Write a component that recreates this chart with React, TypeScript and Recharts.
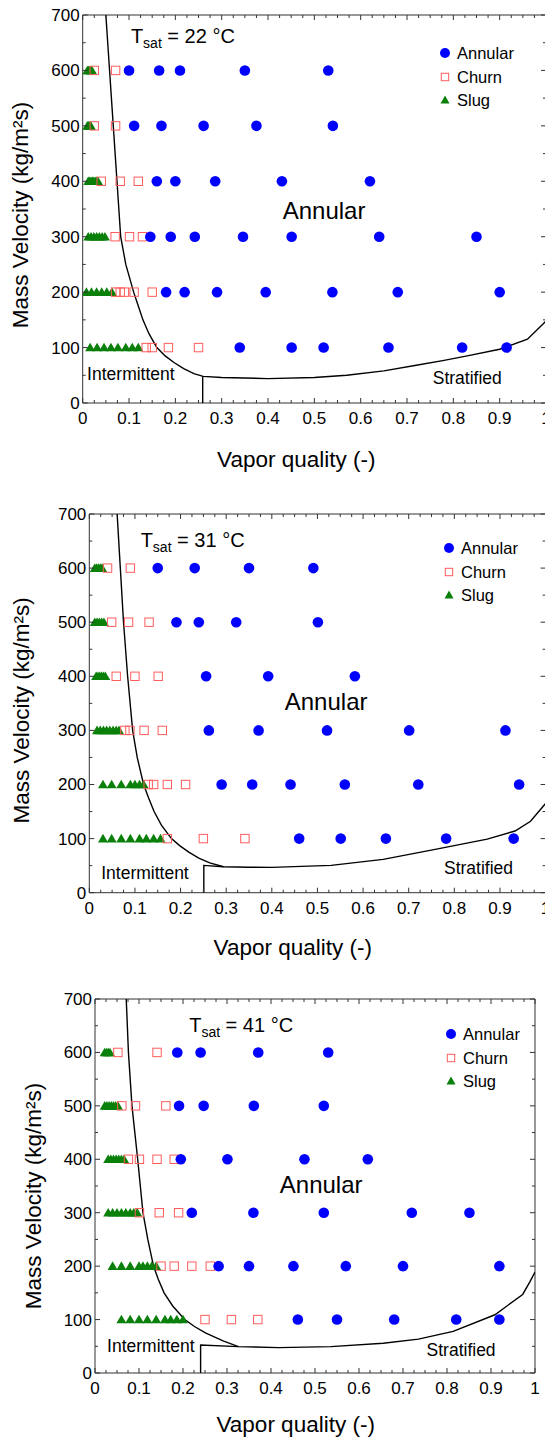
import React from 'react';
import { ScatterChart, Scatter, XAxis, YAxis, ReferenceDot, Legend } from 'recharts';

// ---------- data ----------
const gLevels = [600, 500, 400, 300, 200, 100];

// Panel 1 : Tsat = 22 °C  (x values per G row, order of gLevels)
const annular22 = [
  [0.10, 0.165, 0.21, 0.35, 0.53],
  [0.111, 0.17, 0.261, 0.375, 0.54],
  [0.16, 0.2, 0.286, 0.43, 0.62],
  [0.146, 0.19, 0.242, 0.346, 0.451, 0.64, 0.85],
  [0.18, 0.22, 0.29, 0.395, 0.539, 0.68, 0.9],
  [0.339, 0.451, 0.52, 0.66, 0.819, 0.915],
];
const churn22 = [
  [0.025, 0.071],
  [0.025, 0.071],
  [0.04, 0.081, 0.12],
  [0.07, 0.101, 0.129],
  [0.071, 0.081, 0.09, 0.111, 0.15],
  [0.137, 0.15, 0.185, 0.25],
];
const slug22 = [
  [0.01, 0.0125, 0.015, 0.0175, 0.02],
  [0.01, 0.0125, 0.015, 0.0175],
  [0.012, 0.015, 0.018, 0.021, 0.024, 0.027, 0.03, 0.033],
  [0.012, 0.018, 0.024, 0.03, 0.036, 0.042, 0.048],
  [0.008, 0.019, 0.03, 0.041, 0.052, 0.063],
  [0.016, 0.031, 0.046, 0.061, 0.076, 0.093, 0.107, 0.12],
];
const boundary22 = [
  [0.05, 700], [0.058, 600], [0.066, 500], [0.074, 400], [0.082, 300], [0.093, 250],
  [0.11, 200], [0.12, 175], [0.13, 150], [0.143, 125], [0.16, 100], [0.178, 85],
  [0.197, 73], [0.218, 62], [0.24, 53], [0.26, 48], [0.3, 46], [0.4, 44], [0.5, 46],
  [0.57, 50], [0.65, 58], [0.72, 68], [0.78, 77], [0.83, 85], [0.9, 97], [0.96, 115],
  [0.993, 142], [1.0, 148],
];
const divider22 = [[0.259, 0], [0.259, 48]];

// Panel 2 : Tsat = 31 °C
const annular31 = [
  [0.15, 0.231, 0.35, 0.491],
  [0.191, 0.24, 0.322, 0.501],
  [0.256, 0.392, 0.582],
  [0.262, 0.371, 0.521, 0.701, 0.912],
  [0.29, 0.357, 0.441, 0.56, 0.721, 0.942],
  [0.46, 0.551, 0.65, 0.782, 0.93],
];
const churn31 = [
  [0.04, 0.09],
  [0.049, 0.086, 0.131],
  [0.059, 0.1, 0.151],
  [0.078, 0.089, 0.12, 0.16],
  [0.129, 0.141, 0.171, 0.211],
  [0.171, 0.25, 0.341],
];
const slug31 = [
  [0.012, 0.016, 0.02, 0.024, 0.028],
  [0.012, 0.017, 0.022, 0.027, 0.032],
  [0.015, 0.019, 0.023, 0.027, 0.031, 0.035],
  [0.017, 0.024, 0.031, 0.038, 0.045, 0.052, 0.059, 0.065],
  [0.03, 0.049, 0.07, 0.09, 0.1, 0.11, 0.119],
  [0.03, 0.049, 0.07, 0.09, 0.11, 0.125, 0.141, 0.156],
];
const boundary31 = [
  [0.061, 700], [0.068, 600], [0.075, 500], [0.084, 400], [0.095, 300], [0.105, 250],
  [0.119, 200], [0.13, 175], [0.142, 150], [0.158, 125], [0.18, 100], [0.198, 87],
  [0.218, 75], [0.24, 64], [0.264, 55], [0.294, 48], [0.35, 47], [0.4, 46.8],
  [0.53, 50.5], [0.644, 61.5], [0.758, 80], [0.872, 99], [0.933, 114], [0.967, 132],
  [1.0, 165],
];
const divider31 = [[0.251, 0], [0.251, 50.5], [0.294, 48]];

// Panel 3 : Tsat = 41 °C
const annular41 = [
  [0.187, 0.24, 0.371, 0.53],
  [0.191, 0.247, 0.361, 0.52],
  [0.195, 0.301, 0.476, 0.62],
  [0.22, 0.36, 0.52, 0.72, 0.851],
  [0.281, 0.35, 0.451, 0.57, 0.7, 0.919],
  [0.461, 0.55, 0.68, 0.821, 0.919],
];
const churn41 = [
  [0.052, 0.141],
  [0.061, 0.092, 0.161],
  [0.076, 0.101, 0.141, 0.18],
  [0.101, 0.146, 0.19],
  [0.15, 0.18, 0.22, 0.262],
  [0.25, 0.31, 0.37],
];
const slug41 = [
  [0.022, 0.026, 0.03, 0.034],
  [0.022, 0.027, 0.032, 0.037, 0.042, 0.047, 0.052],
  [0.03, 0.036, 0.042, 0.048, 0.054, 0.06, 0.066],
  [0.03, 0.04, 0.05, 0.06, 0.07, 0.08, 0.088, 0.096],
  [0.04, 0.06, 0.08, 0.1, 0.109, 0.119, 0.129, 0.139],
  [0.06, 0.08, 0.1, 0.119, 0.139, 0.159, 0.172, 0.186, 0.2],
];
const boundary41 = [
  [0.071, 700], [0.076, 600], [0.084, 500], [0.097, 400], [0.109, 300], [0.12, 250],
  [0.133, 200], [0.144, 175], [0.157, 150], [0.177, 125], [0.204, 100], [0.226, 87],
  [0.251, 75], [0.291, 60], [0.326, 49.4], [0.417, 47.5], [0.536, 49.4], [0.655, 55.7],
  [0.735, 63.3], [0.814, 77.8], [0.909, 109], [0.972, 147], [0.988, 170], [1.0, 189],
];
const divider41 = [[0.24, 0], [0.24, 52.5], [0.326, 49.4]];

const xMajorTicks = [0, 0.1, 0.2, 0.3, 0.4, 0.5, 0.6, 0.7, 0.8, 0.9, 1];
const yMajorTicks = [0, 100, 200, 300, 400, 500, 600, 700];
const seriesNames = ['Annular', 'Churn', 'Slug'];

// ---------- helpers ----------
const toPoints = (rows: number[][]) =>
  gLevels.flatMap((g, i) => rows[i].map((x) => ({ x, y: g })));
const toCurve = (pairs: number[][]) => pairs.map(([x, y]) => ({ x, y }));

const xAllTicks = xMajorTicks.flatMap((t, i) =>
  i === xMajorTicks.length - 1 ? [t] : [t, t + 0.025, t + 0.05, t + 0.075]
).map((v) => Math.round(v * 1000) / 1000);
const yAllTicks = yMajorTicks.flatMap((t, i) =>
  i === yMajorTicks.length - 1 ? [t] : [t, t + 50]
);
const frameAnchor = [{ x: 0, y: 0 }, { x: 1, y: 700 }];

const AX = '#333';
const BLUE = '#0000ff';
const RED = '#ff5c5c';
const GREEN = '#0a800a';
const FONT = '"Liberation Sans", Arial, Helvetica, sans-serif';

const isMajX = (v: number) => Math.abs(v * 10 - Math.round(v * 10)) < 1e-6;
const isMajY = (v: number) => v % 100 === 0;
const fmtX = (v: number) => (v === 0 ? '0' : v === 1 ? '1' : v.toFixed(1));

const BottomTick = (p: any) => {
  const v = p.payload.value;
  const m = isMajX(v);
  return (
    <g>
      <line x1={p.x} x2={p.x} y1={p.y} y2={p.y - (m ? 5 : 3)} stroke={AX} />
      {m && (
        <text x={p.x} y={p.y + 21} textAnchor="middle" fontSize={17} fill="#000">
          {fmtX(v)}
        </text>
      )}
    </g>
  );
};
const TopTick = (p: any) => {
  const m = isMajX(p.payload.value);
  return <line x1={p.x} x2={p.x} y1={p.y} y2={p.y + (m ? 5 : 3)} stroke={AX} />;
};
const LeftTick = (p: any) => {
  const v = p.payload.value;
  const m = isMajY(v);
  return (
    <g>
      <line x1={p.x} x2={p.x + (m ? 5 : 3)} y1={p.y} y2={p.y} stroke={AX} />
      {m && (
        <text x={p.x - 3} y={p.y} dy="0.35em" textAnchor="end" fontSize={17} fill="#000">
          {v}
        </text>
      )}
    </g>
  );
};
const RightTick = (p: any) => {
  const m = isMajY(p.payload.value);
  return <line x1={p.x} x2={p.x - (m ? 5 : 3)} y1={p.y} y2={p.y} stroke={AX} />;
};

const CircleShape = (p: any) => <circle cx={p.cx} cy={p.cy} r={5.3} fill={BLUE} />;
const SquareShape = (p: any) => (
  <rect x={p.cx - 4.2} y={p.cy - 4.2} width={8.4} height={8.4} fill="none" stroke={RED} strokeWidth={1} />
);
const TriShape = (p: any) => (
  <polygon
    points={`${p.cx},${p.cy - 4.8} ${p.cx + 5},${p.cy + 3.8} ${p.cx - 5},${p.cy + 3.8}`}
    fill={GREEN}
  />
);
const NoShape = () => <g />;

const LegendBox = () => (
  <div style={{ fontFamily: FONT, fontSize: 16.5, color: '#000' }}>
    {seriesNames.map((n, i) => (
      <div key={n} style={{ display: 'flex', alignItems: 'center', height: 23.5 }}>
        <svg width={14} height={14} style={{ display: 'block' }}>
          {i === 0 && <circle cx={7} cy={7} r={5} fill={BLUE} />}
          {i === 1 && <rect x={3.3} y={3.3} width={7.4} height={7.4} fill="none" stroke={RED} />}
          {i === 2 && <polygon points="7,2.6 11.5,10.4 2.5,10.4" fill={GREEN} />}
        </svg>
        <span style={{ marginLeft: 5, lineHeight: '20px' }}>{n}</span>
      </div>
    ))}
  </div>
);

type PanelProps = {
  plotLeft: number; plotRight: number; plotTop: number; plotBottom: number;
  annular: number[][]; churn: number[][]; slug: number[][];
  boundary: number[][]; divider: number[][];
  temp: string;
  tsatAt: number[]; annularAt: number[]; interAt: number[]; stratAt: number[];
  legendX: number; legendY: number;
  xTitleDx: number; xTitleDy: number; yTitleX: number; yTitleDy: number;
};

const W = 560;
const H = 480;
const YW = 60;
const XH = 70;
const MT = 15;

const Panel = (pp: PanelProps) => {
  const plotH = pp.plotBottom - pp.plotTop;
  const margin = {
    top: MT - 1,
    left: pp.plotLeft - YW,
    right: W - pp.plotRight - 1,
    bottom: H - MT - plotH - XH,
  };
  const top = pp.plotTop - MT;
  return (
    <div style={{ position: 'absolute', left: 0, top, width: W, height: H }}>
      <ScatterChart width={W} height={H} margin={margin}>
        <XAxis
          xAxisId="b" type="number" dataKey="x" domain={[0, 1]} ticks={xAllTicks} interval={0}
          allowDataOverflow tickSize={0} tickMargin={0} tickLine={false} height={XH}
          axisLine={{ stroke: AX }} tick={<BottomTick />}
          label={(lp: any) => {
            const vb = lp.viewBox || {};
            return (
              <text x={vb.x + pp.xTitleDx} y={vb.y + pp.xTitleDy} textAnchor="middle" fontSize={22.5} fill="#000">
                Vapor quality (-)
              </text>
            );
          }}
        />
        <XAxis
          xAxisId="t" orientation="top" type="number" dataKey="x" domain={[0, 1]} ticks={xAllTicks}
          interval={0} allowDataOverflow tickSize={0} tickMargin={0} tickLine={false} height={1}
          axisLine={{ stroke: AX }} tick={<TopTick />}
        />
        <YAxis
          yAxisId="l" type="number" dataKey="y" domain={[0, 700]} ticks={yAllTicks} interval={0}
          allowDataOverflow tickSize={0} tickMargin={0} tickLine={false} width={YW}
          axisLine={{ stroke: AX }} tick={<LeftTick />}
          label={(lp: any) => {
            const vb = lp.viewBox || {};
            const cx = pp.yTitleX;
            const cy = vb.y + vb.height / 2 + pp.yTitleDy;
            return (
              <text x={cx} y={cy} transform={`rotate(-90 ${cx} ${cy})`} textAnchor="middle" fontSize={22.5} fill="#000">
                Mass Velocity (kg/m²s)
              </text>
            );
          }}
        />
        <YAxis
          yAxisId="r" orientation="right" type="number" dataKey="y" domain={[0, 700]} ticks={yAllTicks}
          interval={0} allowDataOverflow tickSize={0} tickMargin={0} tickLine={false} width={1}
          axisLine={{ stroke: AX }} tick={<RightTick />}
        />
        <Scatter xAxisId="t" yAxisId="r" data={frameAnchor} shape={NoShape} isAnimationActive={false} legendType="none" />
        <Scatter xAxisId="b" yAxisId="l" data={toCurve(pp.boundary)} line={{ stroke: '#000', strokeWidth: 1.4 }}
          shape={NoShape} isAnimationActive={false} legendType="none" />
        <Scatter xAxisId="b" yAxisId="l" data={toCurve(pp.divider)} line={{ stroke: '#000', strokeWidth: 1.4 }}
          shape={NoShape} isAnimationActive={false} legendType="none" />
        <Scatter xAxisId="b" yAxisId="l" name="Slug" data={toPoints(pp.slug)} shape={TriShape} isAnimationActive={false} />
        <Scatter xAxisId="b" yAxisId="l" name="Churn" data={toPoints(pp.churn)} shape={SquareShape} isAnimationActive={false} />
        <Scatter xAxisId="b" yAxisId="l" name="Annular" data={toPoints(pp.annular)} shape={CircleShape} isAnimationActive={false} />
        <ReferenceDot xAxisId="b" yAxisId="l" x={pp.tsatAt[0]} y={pp.tsatAt[1]} r={0}
          shape={(s: any) => (
            <text x={s.cx} y={s.cy} fontSize={20} fill="#000">
              T<tspan fontSize={14} dy={5}>sat</tspan><tspan dy={-5}>{` = ${pp.temp} °C`}</tspan>
            </text>
          )} />
        <ReferenceDot xAxisId="b" yAxisId="l" x={pp.annularAt[0]} y={pp.annularAt[1]} r={0}
          shape={(s: any) => (
            <text x={s.cx} y={s.cy} dy="0.35em" textAnchor="middle" fontSize={24} fill="#000">Annular</text>
          )} />
        <ReferenceDot xAxisId="b" yAxisId="l" x={pp.interAt[0]} y={pp.interAt[1]} r={0}
          shape={(s: any) => (
            <text x={s.cx} y={s.cy} dy="0.35em" textAnchor="middle" fontSize={17.5} fill="#000">Intermittent</text>
          )} />
        <ReferenceDot xAxisId="b" yAxisId="l" x={pp.stratAt[0]} y={pp.stratAt[1]} r={0}
          shape={(s: any) => (
            <text x={s.cx} y={s.cy} dy="0.35em" textAnchor="middle" fontSize={17.5} fill="#000">Stratified</text>
          )} />
        <Legend layout="vertical" align="center" verticalAlign="middle"
          wrapperStyle={{ left: pp.legendX - 7, top: pp.legendY - 11.75 - top, width: 100 }}
          content={() => <LegendBox />} />
      </ScatterChart>
    </div>
  );
}

export default function App() {
  return (
    <div style={{ position: 'absolute', left: 0, top: 0, width: 545, height: 1438, overflow: 'hidden', background: '#fff', fontFamily: FONT }}>
      <Panel plotLeft={82.7} plotRight={546} plotTop={14.7} plotBottom={402.7}
        annular={annular22} churn={churn22} slug={slug22} boundary={boundary22} divider={divider22}
        temp="22" tsatAt={[0.104, 649]} annularAt={[0.521, 347.6]} interAt={[0.104, 52]} stratAt={[0.83, 46]}
        legendX={445} legendY={53.3}
        xTitleDx={213.6} xTitleDy={64} yTitleX={27.5} yTitleDy={6} />
      <Panel plotLeft={89.3} plotRight={545.6} plotTop={514} plotBottom={892.7}
        annular={annular31} churn={churn31} slug={slug31} boundary={boundary31} divider={divider31}
        temp="31" tsatAt={[0.1125, 639]} annularAt={[0.519, 352.5]} interAt={[0.122, 36.4]} stratAt={[0.853, 45.7]}
        legendX={449} legendY={548.3}
        xTitleDx={203.5} xTitleDy={62} yTitleX={29} yTitleDy={7} />
      <Panel plotLeft={95} plotRight={535} plotTop={999} plotBottom={1373}
        annular={annular41} churn={churn41} slug={slug41} boundary={boundary41} divider={divider41}
        temp="41" tsatAt={[0.214, 638]} annularAt={[0.514, 352]} interAt={[0.127, 50.5]} stratAt={[0.832, 43]}
        legendX={451} legendY={1034}
        xTitleDx={200.7} xTitleDy={58.6} yTitleX={41} yTitleDy={10} />
    </div>
  );
}
